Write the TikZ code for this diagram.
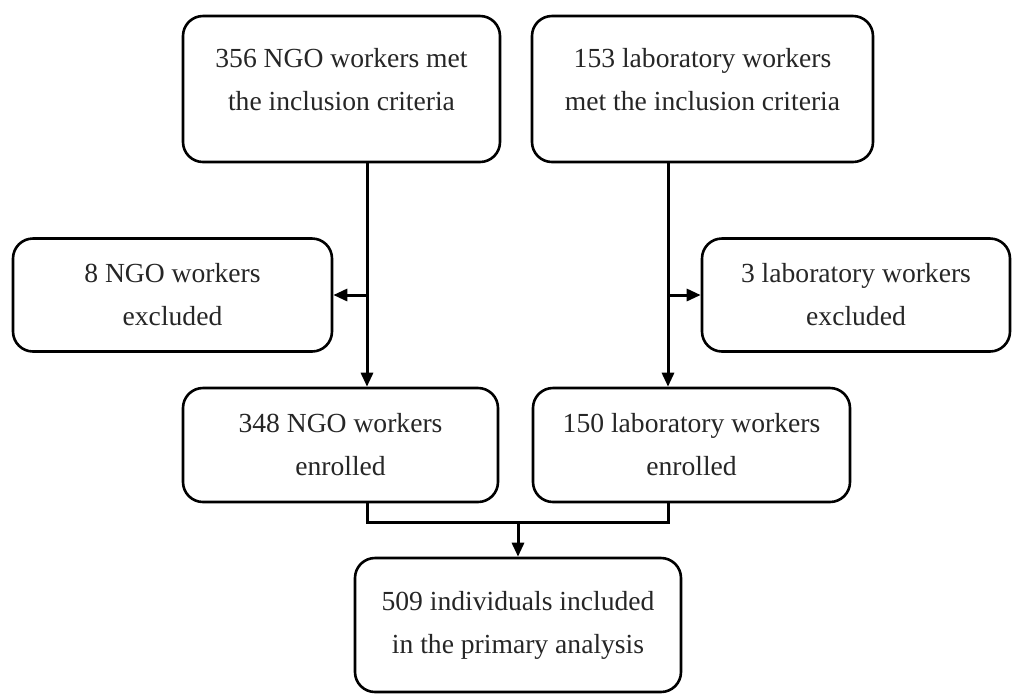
\documentclass[tikz,border=0pt]{standalone}
\usepackage{fontspec}
\setmainfont{Liberation Serif}
\usetikzlibrary{arrows.meta}
\begin{document}
\begin{tikzpicture}[x=0.5pt,y=-0.5pt,
  box/.style={draw=black, line width=1.3pt, rounded corners=10pt, fill=white, inner sep=0pt},
  txt/.style={align=center, font=\fontsize{13.8pt}{21.5pt}\selectfont, text=black!85},
  conn/.style={draw=black, line width=1.5pt},
  arr/.style={conn, -{Triangle[length=7pt,width=6pt]}}]
\useasboundingbox (0,0) rectangle (1013,698);
% boxes
\node[box, minimum width=158.5pt, minimum height=73pt,
  label={[txt,yshift=4.5pt]center:356 NGO workers met\\the inclusion criteria}] (A) at (341.5,89) {};
\node[box, minimum width=170.5pt, minimum height=73pt,
  label={[txt,yshift=4.5pt]center:153 laboratory workers\\met the inclusion criteria}] (B) at (702.5,89) {};
\node[box, minimum width=159.5pt, minimum height=56.5pt,
  label={[txt]center:8 NGO workers\\excluded}] (C) at (172.5,295) {};
\node[box, minimum width=154pt, minimum height=56.5pt,
  label={[txt]center:3 laboratory workers\\excluded}] (D) at (856,295) {};
\node[box, minimum width=157.5pt, minimum height=57pt,
  label={[txt]center:348 NGO workers\\enrolled}] (E) at (340.5,445) {};
\node[box, minimum width=158.5pt, minimum height=57pt,
  label={[txt]center:150 laboratory workers\\enrolled}] (F) at (691.5,445) {};
\node[box, minimum width=163pt, minimum height=67pt,
  label={[txt]center:509 individuals included\\in the primary analysis}] (G) at (518,625) {};
% helper coordinates
\coordinate (L) at (367,0);
\coordinate (R) at (668,0);
\coordinate (Lb) at (367,295);
\coordinate (Rb) at (668,295);
\coordinate (M) at (518,522);
% connectors
\draw[arr] (A.south -| L) -- (E.north -| L);
\draw[arr] (B.south -| R) -- (F.north -| R);
\draw[arr] (Lb) -- (C.east);
\draw[arr] (Rb) -- (D.west);
\draw[conn] (E.south -| L) |- (M) -| (F.south -| R);
\draw[arr] (M) -- (G.north);
\end{tikzpicture}
\end{document}
